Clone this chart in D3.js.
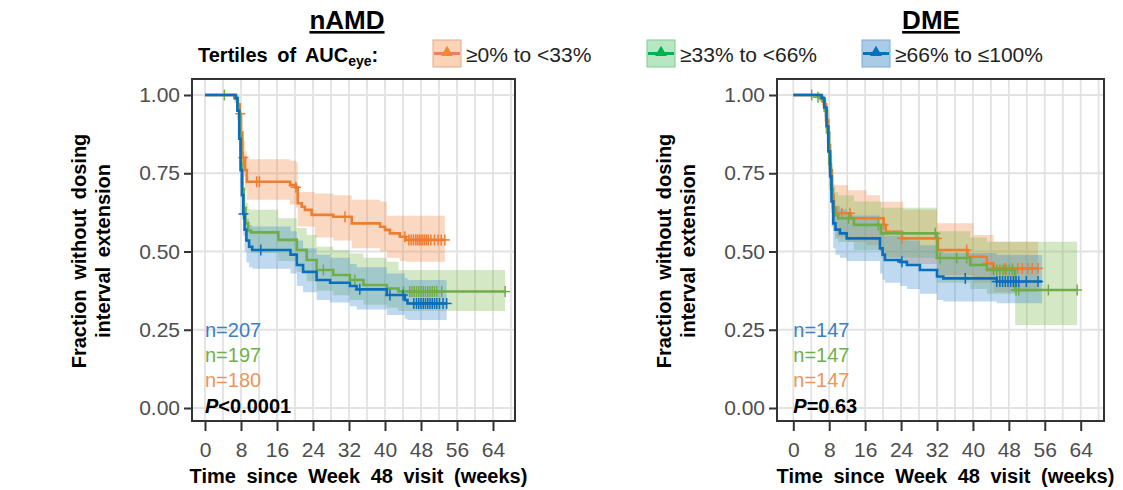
<!DOCTYPE html>
<html>
<head>
<meta charset="utf-8">
<script src="https://cdn.jsdelivr.net/npm/d3@7"></script>
<style>
  html, body { margin: 0; padding: 0; background: #fff; }
  svg { display: block; font-family: "Liberation Sans", Arial, sans-serif; }
</style>
</head>
<body>
<svg id="chart" width="1123" height="490"></svg>
<script>
// ---- Kaplan-Meier data: [week, survival] steps, [week, lower, upper] bands, censor weeks ----
const tertiles = ["≥0% to <33%", "≥33% to <66%", "≥66% to ≤100%"];
const xTicks = [0, 8, 16, 24, 32, 40, 48, 56, 64];
const yTicks = [0, 0.25, 0.5, 0.75, 1];
const yTickLabels = ["0.00", "0.25", "0.50", "0.75", "1.00"];

// nAMD panel
const namdLowSteps = [[0,1],[6.5,0.99],[7.2,0.97],[7.7,0.94],[8.0,0.88],[8.3,0.80],[8.9,0.76],[9.3,0.723],[18.9,0.712],[20.2,0.705],[20.6,0.654],[21.5,0.643],[22.2,0.633],[23.7,0.617],[28.5,0.611],[32.6,0.59],[38.9,0.579],[40,0.569],[41.1,0.558],[43.3,0.547],[44.6,0.537]];
const namdLowBand = [[0,1,1],[6.5,0.975,1],[7.2,0.945,0.99],[7.7,0.905,0.97],[8.0,0.835,0.925],[8.3,0.74,0.855],[8.9,0.695,0.82],[9.3,0.665,0.795],[18.9,0.65,0.79],[20.2,0.64,0.785],[20.6,0.58,0.69],[24.4,0.545,0.685],[28.5,0.535,0.68],[32.6,0.51,0.665],[38.9,0.5,0.66],[40.4,0.48,0.614],[43.3,0.47,0.614],[44.6,0.467,0.614]];
const namdLowCensor = [7.85,8.5,11.5,12.1,20.2,31.1,44.4,45.3,45.8,46.3,46.8,47.2,47.6,48,48.4,48.8,49.2,49.6,50.2,51,51.8,52.5,53.3];
const namdLowEnd = 53.3;

const namdMidSteps = [[0,1],[6.9,0.99],[7.3,0.95],[7.7,0.87],[8.0,0.78],[8.3,0.70],[8.6,0.64],[9.0,0.59],[9.6,0.567],[10.2,0.561],[16.3,0.537],[20.4,0.505],[22.6,0.473],[24.8,0.441],[28.5,0.425],[32.2,0.409],[35.2,0.393],[40.4,0.382],[43,0.372]];
const namdMidBand = [[0,1,1],[6.9,0.975,1],[7.3,0.92,0.975],[7.7,0.83,0.91],[8.0,0.73,0.83],[8.3,0.645,0.76],[8.6,0.585,0.70],[9.0,0.53,0.655],[9.6,0.505,0.635],[10.2,0.495,0.633],[16.3,0.47,0.606],[20.4,0.435,0.575],[22.6,0.405,0.553],[24.8,0.375,0.515],[28.5,0.36,0.505],[32.2,0.345,0.494],[35.2,0.33,0.48],[40.4,0.32,0.467],[43,0.31,0.441]];
const namdMidCensor = [4.3,26.3,33.3,44.1,45.5,46,46.5,47,47.5,48,48.5,49,49.5,50,50.5,51,51.5,52.6,66.7];
const namdMidEnd = 66.7;

const namdHighSteps = [[0,1],[6.8,0.99],[7.2,0.95],[7.6,0.86],[7.9,0.76],[8.2,0.68],[8.5,0.62],[8.8,0.57],[9.2,0.535],[9.8,0.515],[10.5,0.505],[19,0.49],[20.4,0.457],[21.8,0.435],[24.8,0.409],[27.8,0.40],[32.2,0.39],[33.7,0.379],[40.4,0.361],[44.4,0.345],[45,0.334]];
const namdHighBand = [[0,1,1],[6.8,0.975,1],[7.2,0.92,0.97],[7.6,0.82,0.9],[7.9,0.71,0.81],[8.2,0.62,0.74],[8.5,0.55,0.69],[8.8,0.5,0.64],[9.2,0.465,0.605],[9.8,0.45,0.585],[10.5,0.445,0.58],[19,0.43,0.565],[20.4,0.39,0.535],[21.8,0.37,0.51],[24.8,0.345,0.49],[27.8,0.337,0.48],[32.2,0.325,0.46],[33.7,0.315,0.45],[40.4,0.297,0.43],[44.4,0.285,0.415],[45,0.281,0.409]];
const namdHighCensor = [8.55,12.4,34.4,41.1,44.0,46.4,47,47.5,48,48.5,49,49.5,50,50.5,51,51.5,52.1,52.9,53.7];
const namdHighEnd = 53.7;

// DME panel
const dmeLowSteps = [[0,1],[6,0.99],[6.8,0.97],[7.3,0.92],[7.8,0.84],[8.2,0.76],[8.6,0.68],[9.0,0.64],[9.6,0.622],[12.8,0.606],[20.1,0.585],[20.6,0.563],[24.2,0.542],[32.2,0.505],[38.8,0.483],[43.1,0.462],[44.6,0.446]];
const dmeLowBand = [[0,1,1],[6,0.975,1],[6.8,0.945,0.99],[7.3,0.88,0.955],[7.8,0.79,0.885],[8.2,0.7,0.81],[8.6,0.615,0.745],[9.0,0.57,0.712],[9.6,0.545,0.712],[12.2,0.53,0.696],[16.3,0.52,0.68],[19.3,0.5,0.659],[20.6,0.48,0.659],[24.5,0.46,0.633],[32,0.425,0.59],[40.1,0.4,0.553],[44.6,0.37,0.531]];
const dmeLowCensor = [10.8,12.6,20.1,24.2,32,38.6,43.1,44.6,47.1,48.8,50,51,52.2,53.2,54.5];
const dmeLowEnd = 54.5;

const dmeMidSteps = [[0,1],[5.5,0.993],[6.5,0.98],[7.0,0.95],[7.5,0.88],[8.0,0.78],[8.4,0.70],[8.8,0.64],[9.3,0.615],[10,0.606],[13.5,0.585],[19.5,0.558],[32,0.479],[39.4,0.457],[43.1,0.441],[49.4,0.377]];
const dmeMidBand = [[0,1,1],[5.5,0.98,1],[6.5,0.955,0.995],[7.0,0.91,0.975],[7.5,0.82,0.925],[8.0,0.71,0.84],[8.4,0.625,0.77],[8.8,0.565,0.715],[9.3,0.54,0.69],[10,0.53,0.68],[13.5,0.505,0.66],[19.5,0.48,0.64],[32,0.4,0.565],[39.4,0.38,0.545],[43.1,0.365,0.531],[49.4,0.265,0.531]];
const dmeMidCensor = [4.1,5.5,12.3,18.9,31.6,32.7,36.4,38.6,44.6,45.3,46,46.7,47.4,48.1,48.8,49.6,50.2,56.8,63.2];
const dmeMidEnd = 63.2;

const dmeHighSteps = [[0,1],[6.3,0.99],[6.9,0.96],[7.4,0.9],[7.8,0.82],[8.2,0.74],[8.5,0.66],[8.9,0.59],[9.4,0.57],[10.4,0.558],[11.9,0.542],[19.3,0.51],[19.9,0.49],[20.4,0.473],[23.8,0.467],[25.3,0.457],[28.2,0.441],[32,0.42],[33.4,0.414],[45.3,0.404]];
const dmeHighBand = [[0,1,1],[6.3,0.975,1],[6.9,0.93,0.99],[7.4,0.85,0.94],[7.8,0.76,0.87],[8.2,0.67,0.8],[8.5,0.58,0.73],[8.9,0.51,0.665],[9.4,0.49,0.645],[10.4,0.48,0.635],[11.9,0.47,0.615],[19.3,0.43,0.585],[19.9,0.41,0.565],[20.4,0.4,0.55],[23.8,0.39,0.545],[25.3,0.38,0.535],[28.2,0.365,0.52],[32,0.345,0.5],[33.4,0.34,0.495],[45.3,0.335,0.489]];
const dmeHighCensor = [24.2,38.3,45.3,46,46.6,47.2,47.8,48.4,49,49.6,50.2,51.9,54.5];
const dmeHighEnd = 55.4;

const namdN = ["n=207", "n=197", "n=180"];
const dmeN = ["n=147", "n=147", "n=147"];
const namdP = "<0.0001";
const dmeP = "=0.63";

// ---- styling ----
const lineColors = ["#ED7D31", "#70AD47", "#0A6EBD"];
const bandColors = ["#F08A45", "#7DB852", "#3A8CD0"];
const nColors = ["#3A80C4", "#6FB04A", "#F0945A"]; // n labels: high, mid, low
const keyFill = ["#FBD3B7", "#B8E6C2", "#A9CBE6"];
const keyStroke = ["#E8A88A", "#7FCB93", "#7AA9D2"];
const keyLine = ["#F47A6A", "#00B050", "#0070C0"];
const keyMark = ["#F08A30", "#00B050", "#0070C0"];
const FONT = "'Liberation Sans', Arial, sans-serif";

const svg = d3.select("#chart");

const panels = [
  { title: "nAMD", titleX: 347, box: [192, 515], range: [205, 493],
    series: [
      { steps: namdLowSteps, band: namdLowBand, censor: namdLowCensor, end: namdLowEnd },
      { steps: namdMidSteps, band: namdMidBand, censor: namdMidCensor, end: namdMidEnd },
      { steps: namdHighSteps, band: namdHighBand, censor: namdHighCensor, end: namdHighEnd }
    ], n: namdN, p: namdP },
  { title: "DME", titleX: 931, box: [777, 1104], range: [793.3, 1080.7],
    series: [
      { steps: dmeLowSteps, band: dmeLowBand, censor: dmeLowCensor, end: dmeLowEnd },
      { steps: dmeMidSteps, band: dmeMidBand, censor: dmeMidCensor, end: dmeMidEnd },
      { steps: dmeHighSteps, band: dmeHighBand, censor: dmeHighCensor, end: dmeHighEnd }
    ], n: dmeN, p: dmeP }
];

const boxTop = 79, boxBottom = 421;
const y = d3.scaleLinear().domain([0, 1]).range([408, 95]);

function survAt(steps, t) {
  let s = steps[0][1];
  for (const [tt, v] of steps) { if (tt <= t) s = v; else break; }
  return s;
}

panels.forEach((p, pi) => {
  const x = d3.scaleLinear().domain([0, 64]).range(p.range);
  const g = svg.append("g");
  const [bx0, bx1] = p.box;

  // panel background grid (every 4 weeks)
  const gridWeeks = d3.range(0, 69, 4);
  g.selectAll(".vgrid").data(gridWeeks).join("line")
    .attr("x1", d => x(d)).attr("x2", d => x(d))
    .attr("y1", boxTop).attr("y2", boxBottom)
    .attr("stroke", "#e2e2e2").attr("stroke-width", 1.8);
  g.selectAll(".hgrid").data(yTicks).join("line")
    .attr("x1", bx0).attr("x2", bx1)
    .attr("y1", d => y(d)).attr("y2", d => y(d))
    .attr("stroke", "#e2e2e2").attr("stroke-width", 1.8);

  // confidence bands
  const area = d3.area().curve(d3.curveStepAfter)
    .x(d => x(d[0])).y0(d => y(d[1])).y1(d => y(d[2]));
  p.series.forEach((s, i) => {
    const last = s.band[s.band.length - 1];
    const pts = s.band.concat([[s.end, last[1], last[2]]]);
    g.append("path").attr("d", area(pts))
      .attr("fill", bandColors[i]).attr("fill-opacity", 0.33);
  });

  // survival curves and censor marks
  const line = d3.line().curve(d3.curveStepAfter).x(d => x(d[0])).y(d => y(d[1]));
  p.series.forEach((s, i) => {
    const last = s.steps[s.steps.length - 1];
    const pts = s.steps.concat([[s.end, last[1]]]);
    g.append("path").attr("d", line(pts))
      .attr("fill", "none").attr("stroke", lineColors[i]).attr("stroke-width", 2.6);
    const cg = g.append("g").attr("stroke", lineColors[i]).attr("stroke-width", 1.5);
    s.censor.forEach(t => {
      const cx = x(t), cy = y(survAt(s.steps, t));
      cg.append("line").attr("x1", cx).attr("x2", cx).attr("y1", cy - 5.5).attr("y2", cy + 5.5);
      cg.append("line").attr("x1", cx - 5).attr("x2", cx + 5).attr("y1", cy).attr("y2", cy);
    });
  });

  // panel frame
  g.append("rect").attr("x", bx0).attr("y", boxTop)
    .attr("width", bx1 - bx0).attr("height", boxBottom - boxTop)
    .attr("fill", "none").attr("stroke", "#333").attr("stroke-width", 2);

  // y axis
  const yAxis = d3.axisLeft(y).tickValues(yTicks).tickSize(8).tickPadding(4)
    .tickFormat((d, i) => yTickLabels[i]);
  const ya = g.append("g").attr("transform", `translate(${bx0},0)`).call(yAxis);
  ya.select(".domain").remove();
  ya.selectAll(".tick line").attr("stroke", "#333").attr("stroke-width", 2);
  ya.selectAll(".tick text").attr("font-size", 21).attr("fill", "#4d4d4d")
    .attr("font-family", FONT);

  // x axis
  const xAxis = d3.axisBottom(x).tickValues(xTicks).tickSize(10).tickPadding(11);
  const xa = g.append("g").attr("transform", `translate(0,${boxBottom})`).call(xAxis);
  xa.select(".domain").remove();
  xa.selectAll(".tick line").attr("stroke", "#333").attr("stroke-width", 2);
  xa.selectAll(".tick text").attr("font-size", 21).attr("fill", "#4d4d4d")
    .attr("font-family", FONT);

  // axis titles
  const xc = (bx0 + bx1) / 2 + 5;
  g.append("text").attr("x", xc).attr("y", 483).attr("text-anchor", "middle")
    .attr("font-size", 20).attr("font-weight", "bold").attr("word-spacing", 5)
    .attr("font-family", FONT).text("Time since Week 48 visit (weeks)");
  const yt = g.append("text").attr("transform", `translate(${bx0 - 106},251) rotate(-90)`)
    .attr("text-anchor", "middle").attr("font-size", 20).attr("font-weight", "bold")
    .attr("word-spacing", 4).attr("font-family", FONT);
  yt.append("tspan").attr("x", 0).attr("y", 0).text("Fraction without dosing");
  yt.append("tspan").attr("x", 0).attr("y", 24).text("interval extension");

  // panel title
  g.append("text").attr("x", p.titleX).attr("y", 29)
    .attr("text-anchor", "middle").attr("font-size", 26).attr("font-weight", "bold")
    .attr("text-decoration", "underline").attr("font-family", FONT).text(p.title);

  // sample sizes and log-rank p value
  const nx = p.range[0];
  [0, 1, 2].forEach(k => {
    g.append("text").attr("x", nx).attr("y", 337 + k * 25)
      .attr("font-size", 20).attr("fill", nColors[k]).attr("font-family", FONT)
      .text(p.n[k]);
  });
  const pt = g.append("text").attr("x", nx).attr("y", 413)
    .attr("font-size", 20).attr("font-weight", "bold").attr("font-family", FONT);
  pt.append("tspan").attr("font-style", "italic").text("P");
  pt.append("tspan").text(p.p);
});

// legend
const lg = svg.append("g").attr("font-family", FONT);
const lt = lg.append("text").attr("x", 198).attr("y", 62)
  .attr("font-size", 20).attr("font-weight", "bold").attr("word-spacing", 4);
lt.append("tspan").text("Tertiles of AUC");
lt.append("tspan").attr("font-size", 14).attr("dy", 4).text("eye");
lt.append("tspan").attr("dy", -4).text(":");

const keyX = [433, 647, 862];
tertiles.forEach((label, i) => {
  const kx = keyX[i], ky = 40, kw = 28, kh = 27;
  lg.append("rect").attr("x", kx).attr("y", ky).attr("width", kw).attr("height", kh)
    .attr("fill", keyFill[i]).attr("stroke", keyStroke[i]).attr("stroke-width", 1);
  lg.append("line").attr("x1", kx + 1).attr("x2", kx + kw - 1)
    .attr("y1", ky + kh / 2).attr("y2", ky + kh / 2)
    .attr("stroke", keyLine[i]).attr("stroke-width", 3);
  lg.append("path")
    .attr("d", d3.symbol(d3.symbolTriangle, 60)())
    .attr("transform", `translate(${kx + kw / 2},${ky + kh / 2 - 1})`)
    .attr("fill", keyMark[i]);
  lg.append("text").attr("x", kx + kw + 5).attr("y", 62).attr("font-size", 21)
    .attr("fill", "#222").text(label);
});
</script>
</body>
</html>
